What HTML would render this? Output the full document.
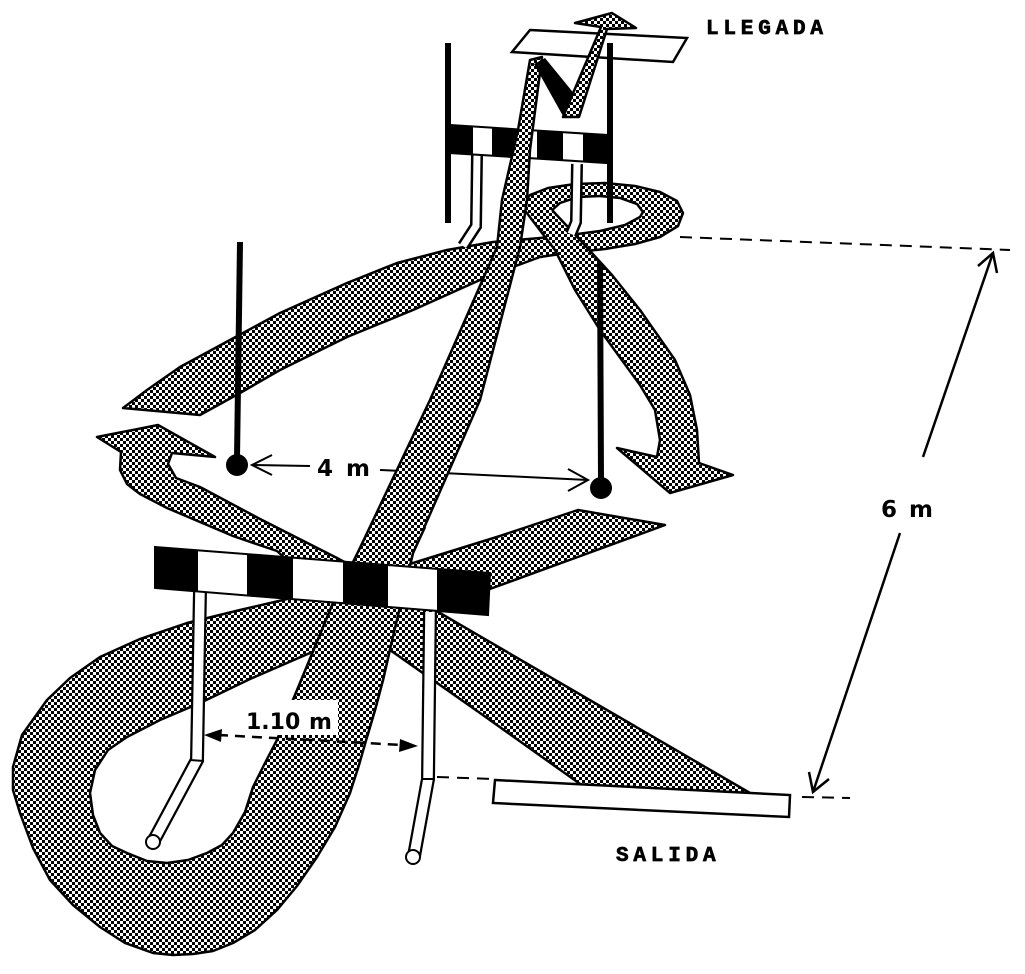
<!DOCTYPE html>
<html><head><meta charset="utf-8"><style>html,body{margin:0;padding:0;background:#fff}svg{display:block}</style></head>
<body>
<svg width="1025" height="974" viewBox="0 0 1025 974" xmlns="http://www.w3.org/2000/svg">
<defs>
<pattern id="ck" width="6" height="6" patternUnits="userSpaceOnUse">
<rect width="6" height="6" fill="#fff"/><rect width="3" height="3" fill="#000"/><rect x="3" y="3" width="3" height="3" fill="#000"/>
</pattern>
</defs>
<rect width="1025" height="974" fill="#fff"/>

<!-- dimension lines -->
<g stroke="#000" stroke-width="2" fill="none">
<line x1="680" y1="237" x2="1010" y2="250" stroke-dasharray="12 8"/>
<line x1="437" y1="777" x2="493" y2="779" stroke-dasharray="12 8"/>
<line x1="802" y1="797" x2="850" y2="798" stroke-dasharray="12 8"/>
<line x1="923" y1="457" x2="993" y2="253" stroke-width="2.5"/>
<polyline points="978,266 993,253 997,273" stroke-width="2.5"/>
<line x1="900" y1="533" x2="813" y2="792" stroke-width="2.5"/>
<polyline points="809,772 813,792 829,779" stroke-width="2.5"/>
<line x1="252" y1="465" x2="310" y2="466"/>
<polyline points="272,455 252,465 272,475"/>
<line x1="380" y1="470" x2="588" y2="480"/>
<polyline points="568,469 588,480 568,491"/>
</g>

<!-- upper ribbon: blade + loop -->
<polygon fill="url(#ck)" stroke="#000" stroke-width="2.5" stroke-linejoin="round" points="123,408 147,390 180,367 230,340 280,313 347,283 397,263 447,250 493,242 540,238 570,235 600,231 625,225 640,217 643,212 637,204 620,198 600,196 578,197 560,203 550,212 522,206 530,195 548,188 575,184 605,183 635,186 660,192 677,201 683,213 678,226 660,237 635,244 605,249 567,253 540,257 513,267 480,280 413,310 347,337 280,370 240,393 200,415"/>
<!-- diagonal down arrow -->
<polygon fill="url(#ck)" points="520,204 552,210 580,240 612,275 640,310 675,360 690,395 697,430 699,463 733,475 670,493 617,448 657,457 660,440 655,410 640,385 600,330 575,290 555,250"/>
<polyline fill="none" stroke="#000" stroke-width="2.5" stroke-linejoin="round" points="552,210 580,240 612,275 640,310 675,360 690,395 697,430 699,463 733,475 670,493 617,448 657,457 660,440 655,410 640,385 600,330 575,290 555,250 520,204"/>

<!-- top hurdle legs -->
<path d="M477,154 L476,226 L463,246" fill="none" stroke="#000" stroke-width="12"/>
<path d="M477,154 L476,226 L463,246" fill="none" stroke="#fff" stroke-width="7"/>
<path d="M577,164 L576,222 L571,234" fill="none" stroke="#000" stroke-width="12"/>
<path d="M577,164 L576,222 L571,234" fill="none" stroke="#fff" stroke-width="7"/>
<!-- top hurdle bar -->
<polygon points="450,125 607,135 607,163 450,153" fill="#fff" stroke="#000" stroke-width="2"/>
<polygon points="450,125 473,126.5 473,154.5 450,153" fill="#000"/>
<polygon points="492,127.7 517,129.3 517,157.3 492,155.7" fill="#000"/>
<polygon points="537,130.5 563,132.2 563,160.2 537,158.5" fill="#000"/>
<polygon points="583,133.5 607,135 607,163 583,161.5" fill="#000"/>

<!-- LLEGADA plank -->
<polygon points="530,30 687,38 673,62 512,52" fill="#fff" stroke="#000" stroke-width="2.5"/>

<!-- big loop + long band -->
<polygon fill="url(#ck)" stroke="#000" stroke-width="2.5" stroke-linejoin="round" points="665,525 575,558 487,590 400,621 310,653 250,679 200,703 160,720 127,737 108,750 95,770 90,793 93,815 100,833 112,846 127,853 147,861 167,863 188,860 207,853 222,845 233,833 245,812 253,787 265,763 277,740 293,700 333,603 360,548 430,400 497,247 502,200 518,130 530,60 542,57 530,150 527,200 520,247 480,400 413,553 400,607 391,645 383,680 375,710 367,737 359,765 350,793 335,827 317,857 297,886 277,910 255,930 233,943 213,951 193,954 173,955 153,953 125,943 100,927 73,905 50,880 33,848 20,813 13,790 13,767 22,735 47,700 70,678 100,657 140,639 187,623 240,610 283,600 350,582 413,563 500,536 578,510"/>

<!-- SALIDA band -->
<polygon fill="url(#ck)" stroke="#000" stroke-width="2.5" stroke-linejoin="round" points="97,437 158,425 215,457 172,453 168,464 176,478 200,487 260,519 337,558 440,613 600,706 750,793 583,786 480,713 380,643 330,598 277,551 233,536 167,508 140,494 127,484 120,470 121,452"/>

<!-- SALIDA plank -->
<polygon points="495,780 790,795 789,817 493,803" fill="#fff" stroke="#000" stroke-width="2.5"/>

<!-- lower hurdle legs -->
<path d="M200,590 L197,760 L153,842" fill="none" stroke="#000" stroke-width="14"/>
<path d="M200,590 L197,760 L153,842" fill="none" stroke="#fff" stroke-width="9.5"/>
<line x1="190" y1="760" x2="204" y2="761" stroke="#000" stroke-width="2"/>
<circle cx="153" cy="842" r="7" fill="#fff" stroke="#000" stroke-width="2"/>
<path d="M430,612 L428,779 L414,856" fill="none" stroke="#000" stroke-width="14"/>
<path d="M430,612 L428,779 L414,856" fill="none" stroke="#fff" stroke-width="9.5"/>
<line x1="421" y1="779" x2="435" y2="779" stroke="#000" stroke-width="2"/>
<circle cx="413" cy="857" r="7" fill="#fff" stroke="#000" stroke-width="2"/>

<!-- long band redraw on top -->
<polygon fill="url(#ck)" points="277,740 293,700 333,603 360,548 370,527 425,527 413,553 400,607 391,645 383,680 375,710 367,737"/>
<polyline fill="none" stroke="#000" stroke-width="2.5" points="277,740 293,700 333,603 360,548 370,527"/>
<polyline fill="none" stroke="#000" stroke-width="2.5" points="425,527 413,553 400,607 391,645 383,680 375,710 367,737"/>

<!-- lower hurdle bar -->
<polygon points="155,547 490,573 488,615 155,588" fill="#fff" stroke="#000" stroke-width="2"/>
<polygon points="155,547 198,550.3 198,591.5 155,588" fill="#000"/>
<polygon points="247,554.1 293,557.7 293,599.2 247,595.5" fill="#000"/>
<polygon points="343,561.6 388,565.1 388,606.9 343,603.2" fill="#000"/>
<polygon points="437,568.9 490,573 488,615 437,610.8" fill="#000"/>

<!-- N and finish arrow -->
<polygon points="534,64 545,58 576,96 579,117 563,116" fill="#000"/>
<polygon fill="url(#ck)" stroke="#000" stroke-width="2.5" stroke-linejoin="round" points="563,117 601,27 575,23 612,13 636,28 607,29 579,117"/>

<!-- poles -->
<line x1="448" y1="43" x2="448" y2="223" stroke="#000" stroke-width="6"/>
<line x1="610" y1="43" x2="610" y2="223" stroke="#000" stroke-width="6"/>
<line x1="240" y1="242" x2="237" y2="458" stroke="#000" stroke-width="6"/>
<circle cx="237" cy="465" r="11" fill="#000"/>
<line x1="600" y1="263" x2="601" y2="480" stroke="#000" stroke-width="6"/>
<circle cx="601" cy="488" r="11" fill="#000"/>

<!-- 1.10 m -->
<rect x="242" y="700" width="96" height="35" fill="#fff"/>
<line x1="218" y1="735" x2="402" y2="745" stroke="#000" stroke-width="2.5" stroke-dasharray="10 7"/>
<polygon points="204,735 222,729 221,742" fill="#000"/>
<polygon points="418,746 400,739 399,752" fill="#000"/>

<g font-family="'DejaVu Sans', 'Liberation Sans', sans-serif" font-weight="bold" fill="#000">
<text x="246" y="729" font-size="22">1.10</text>
<text x="309" y="729" font-size="22">m</text>
<text x="317" y="476" font-size="23">4</text>
<text x="346" y="476" font-size="23">m</text>
<text x="881" y="517" font-size="23">6</text>
<text x="909" y="517" font-size="23">m</text>
</g>
<g font-family="'Liberation Mono', monospace" font-weight="bold" font-size="21" fill="#000" stroke="#000" stroke-width="0.7" letter-spacing="4.8">
<text x="706" y="34">LLEGADA</text>
<text x="616" y="861">SALIDA</text>
</g>
</svg>
</body></html>
